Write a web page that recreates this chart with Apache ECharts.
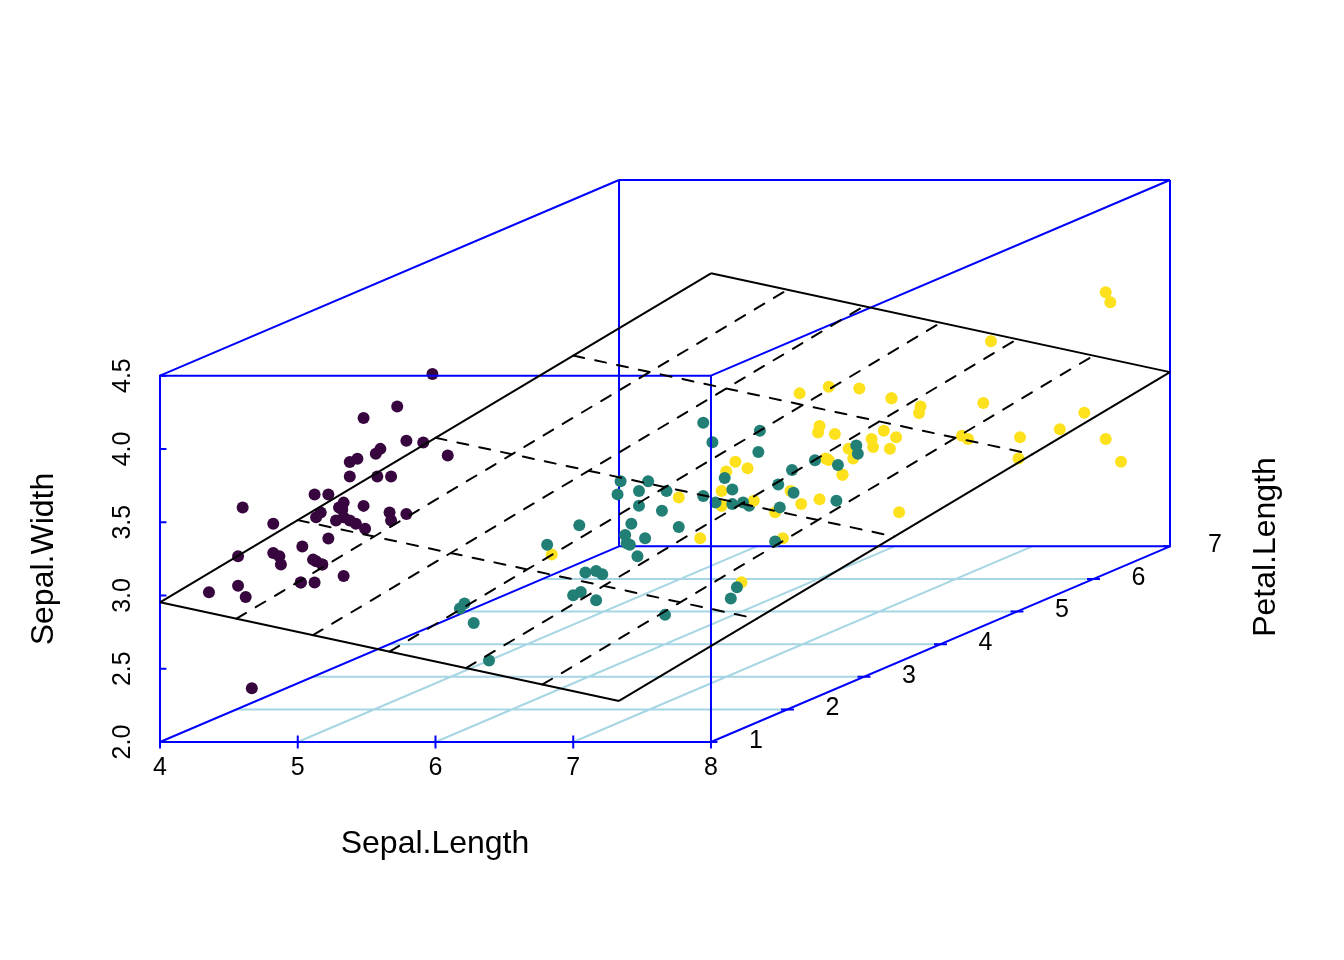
<!DOCTYPE html>
<html>
<head>
<meta charset="utf-8">
<style>
  html, body { margin: 0; padding: 0; background: #fff; }
  #chart { width: 1344px; height: 960px; }
</style>
<script src="https://cdn.jsdelivr.net/npm/echarts@6/dist/echarts.min.js"></script>
</head>
<body>
<div id="chart"></div>
<script>
// [Sepal.Length, Sepal.Width, Petal.Length]
const setosa = [
  [5.1,3.5,1.4],[4.9,3.0,1.4],[4.7,3.2,1.3],[4.6,3.1,1.5],[5.0,3.6,1.4],[5.4,3.9,1.7],[4.6,3.4,1.4],[5.0,3.4,1.5],[4.4,2.9,1.4],[4.9,3.1,1.5],
  [5.4,3.7,1.5],[4.8,3.4,1.6],[4.8,3.0,1.4],[4.3,3.0,1.1],[5.8,4.0,1.2],[5.7,4.4,1.5],[5.4,3.9,1.3],[5.1,3.5,1.4],[5.7,3.8,1.7],[5.1,3.8,1.5],
  [5.4,3.4,1.7],[5.1,3.7,1.5],[4.6,3.6,1.0],[5.1,3.3,1.7],[4.8,3.4,1.9],[5.0,3.0,1.6],[5.0,3.4,1.6],[5.2,3.5,1.5],[5.2,3.4,1.4],[4.7,3.2,1.6],
  [4.8,3.1,1.6],[5.4,3.4,1.5],[5.2,4.1,1.5],[5.5,4.2,1.4],[4.9,3.1,1.5],[5.0,3.2,1.2],[5.5,3.5,1.3],[4.9,3.6,1.4],[4.4,3.0,1.3],[5.1,3.4,1.5],
  [5.0,3.5,1.3],[4.5,2.3,1.3],[4.4,3.2,1.3],[5.0,3.5,1.6],[5.1,3.8,1.9],[4.8,3.0,1.4],[5.1,3.8,1.6],[4.6,3.2,1.4],[5.3,3.7,1.5],[5.0,3.3,1.4]
]
const versicolor = [
  [7.0,3.2,4.7],[6.4,3.2,4.5],[6.9,3.1,4.9],[5.5,2.3,4.0],[6.5,2.8,4.6],[5.7,2.8,4.5],[6.3,3.3,4.7],[4.9,2.4,3.3],[6.6,2.9,4.6],[5.2,2.7,3.9],
  [5.0,2.0,3.5],[5.9,3.0,4.2],[6.0,2.2,4.0],[6.1,2.9,4.7],[5.6,2.9,3.6],[6.7,3.1,4.4],[5.6,3.0,4.5],[5.8,2.7,4.1],[6.2,2.2,4.5],[5.6,2.5,3.9],
  [5.9,3.2,4.8],[6.1,2.8,4.0],[6.3,2.5,4.9],[6.1,2.8,4.7],[6.4,2.9,4.3],[6.6,3.0,4.4],[6.8,2.8,4.8],[6.7,3.0,5.0],[6.0,2.9,4.5],[5.7,2.6,3.5],
  [5.5,2.4,3.8],[5.5,2.4,3.7],[5.8,2.7,3.9],[6.0,2.7,5.1],[5.4,3.0,4.5],[6.0,3.4,4.5],[6.7,3.1,4.7],[6.3,2.3,4.4],[5.6,3.0,4.1],[5.5,2.5,4.0],
  [5.5,2.6,4.4],[6.1,3.0,4.6],[5.8,2.6,4.0],[5.0,2.3,3.3],[5.6,2.7,4.2],[5.7,3.0,4.2],[5.7,2.9,4.2],[6.2,2.9,4.3],[5.1,2.5,3.0],[5.7,2.8,4.1]
]
const virginica = [
  [6.3,3.3,6.0],[5.8,2.7,5.1],[7.1,3.0,5.9],[6.3,2.9,5.6],[6.5,3.0,5.8],[7.6,3.0,6.6],[4.9,2.5,4.5],[7.3,2.9,6.3],[6.7,2.5,5.8],[7.2,3.6,6.1],
  [6.5,3.2,5.1],[6.4,2.7,5.3],[6.8,3.0,5.5],[5.7,2.5,5.0],[5.8,2.8,5.1],[6.4,3.2,5.3],[6.5,3.0,5.5],[7.7,3.8,6.7],[7.7,2.6,6.9],[6.0,2.2,5.0],
  [6.9,3.2,5.7],[5.6,2.8,4.9],[7.7,2.8,6.7],[6.3,2.7,4.9],[6.7,3.3,5.7],[7.2,3.2,6.0],[6.2,2.8,4.8],[6.1,3.0,4.9],[6.4,2.8,5.6],[7.2,3.0,5.8],
  [7.4,2.8,6.1],[7.9,3.8,6.4],[6.4,2.8,5.6],[6.3,2.8,5.1],[6.1,2.6,5.6],[7.7,3.0,6.1],[6.3,3.4,5.6],[6.4,3.1,5.5],[6.0,3.0,4.8],[6.9,3.1,5.4],
  [6.7,3.1,5.6],[6.9,3.1,5.1],[5.8,2.7,5.1],[6.8,3.2,5.9],[6.7,3.3,5.7],[6.7,3.0,5.2],[6.3,2.5,5.0],[6.5,3.0,5.2],[6.2,3.4,5.4],[5.9,3.0,5.1]
]

const slTicks = [4, 5, 6, 7, 8]
const swTicks = [2, 2.5, 3, 3.5, 4, 4.5]
const plTicks = [1, 2, 3, 4, 5, 6, 7]
const swTickLabels = ['2.0', '2.5', '3.0', '3.5', '4.0', '4.5']

// fitted plane Sepal.Width, rows are Sepal.Length 4..8, columns Petal.Length 1..7
const planeSW = [
  [2.953, 2.619, 2.284, 1.949, 1.614, 1.280, 0.945],
  [3.514, 3.180, 2.845, 2.510, 2.175, 1.841, 1.506],
  [4.076, 3.741, 3.406, 3.071, 2.736, 2.402, 2.067],
  [4.637, 4.302, 3.967, 3.632, 3.297, 2.963, 2.628],
  [5.198, 4.863, 4.528, 4.193, 3.858, 3.524, 3.189]
]

// oblique projection, one Petal.Length unit moves this far along the two screen axes
const depthX = 0.5554
const depthY = 0.2225
const slMin = 4, slMax = 8, swMin = 2, swMax = 4.5, plMin = 1, plMax = 7

const project = (sl, sw, pl) => [sl + (pl - plMin) * depthX, sw + (pl - plMin) * depthY]

const GAP = ['-', '-']
const segments = (list) => {
  const out = []
  list.forEach((seg) => {
    out.push(project(...seg[0]), project(...seg[1]), GAP)
  })
  return out
}

const tickX = 0.047
const tickY = 0.044
const tickSegments = []
slTicks.forEach((v) => {
  tickSegments.push([[v, swMin - tickY, plMin], [v, swMin + tickY, plMin]])
})
swTicks.forEach((v) => {
  tickSegments.push([[slMin - tickX, v, plMin], [slMin + tickX, v, plMin]])
})
plTicks.forEach((v) => {
  tickSegments.push([[slMax - tickX, swMin, v], [slMax + tickX, swMin, v]])
})

const floorGrid = []
slTicks.slice(1, -1).forEach((v) => {
  floorGrid.push([[v, swMin, plMin], [v, swMin, plMax]])
})
plTicks.slice(1, -1).forEach((v) => {
  floorGrid.push([[slMin, swMin, v], [slMax, swMin, v]])
})

const backBox = [
  [[slMin, swMin, plMin], [slMax, swMin, plMin]],
  [[slMin, swMin, plMin], [slMin, swMax, plMin]],
  [[slMax, swMin, plMin], [slMax, swMin, plMax]],
  [[slMin, swMin, plMin], [slMin, swMin, plMax]],
  [[slMin, swMin, plMax], [slMax, swMin, plMax]],
  [[slMin, swMin, plMax], [slMin, swMax, plMax]],
  [[slMax, swMin, plMax], [slMax, swMax, plMax]],
  [[slMin, swMax, plMax], [slMax, swMax, plMax]],
  [[slMin, swMax, plMin], [slMin, swMax, plMax]]
]
const frontBox = [
  [[slMin, swMax, plMin], [slMax, swMax, plMin]],
  [[slMax, swMin, plMin], [slMax, swMax, plMin]],
  [[slMax, swMax, plMin], [slMax, swMax, plMax]]
]

const lastRow = planeSW.length - 1
const lastCol = plTicks.length - 1
const planeOutline = [
  [[slMin, planeSW[0][0], plMin], [slMax, planeSW[lastRow][0], plMin]],
  [[slMax, planeSW[lastRow][0], plMin], [slMax, planeSW[lastRow][lastCol], plMax]],
  [[slMax, planeSW[lastRow][lastCol], plMax], [slMin, planeSW[0][lastCol], plMax]],
  [[slMin, planeSW[0][lastCol], plMax], [slMin, planeSW[0][0], plMin]]
]
const planeDashed = []
slTicks.slice(1, -1).forEach((v, i) => {
  planeDashed.push([[v, planeSW[i + 1][0], plMin], [v, planeSW[i + 1][lastCol], plMax]])
})
plTicks.slice(1, -1).forEach((v, i) => {
  planeDashed.push([[slMin, planeSW[0][i + 1], v], [slMax, planeSW[lastRow][i + 1], v]])
})

// furthest points go down first so the nearer ones sit on top
const groups = [
  { rows: setosa, color: '#38063F' },
  { rows: versicolor, color: '#217F75' },
  { rows: virginica, color: '#FDE11D' }
]
const pointData = []
groups.forEach((g) => {
  g.rows.forEach((r) => pointData.push({ pl: r[2], value: project(r[0], r[1], r[2]), itemStyle: { color: g.color, opacity: 1 } }))
})
pointData.sort((a, b) => b.pl - a.pl)

const FONT = '"Liberation Sans", Arial, sans-serif'
const TICK_SIZE = 25
const TITLE_SIZE = 32

const lineSeries = (data, color, z, extra) => ({
  type: 'line',
  data: segments(data),
  symbol: 'none',
  clip: false,
  silent: true,
  connectNulls: false,
  z: z,
  lineStyle: Object.assign({ color: color, width: 2, cap: 'butt' }, extra)
})

const chart = echarts.init(document.getElementById('chart'), null, { renderer: 'canvas' })

chart.setOption({
  animation: false,
  backgroundColor: '#fff',
  grid: { left: 160, top: 180, width: 1010, height: 562 },
  xAxis: {
    type: 'value',
    min: slMin,
    max: slMax + (plMax - plMin) * depthX,
    axisLine: { show: false },
    axisTick: { show: false },
    splitLine: { show: false },
    axisLabel: {
      customValues: slTicks,
      margin: 14,
      color: '#000',
      fontFamily: FONT,
      fontSize: TICK_SIZE
    }
  },
  yAxis: {
    type: 'value',
    min: swMin,
    max: swMax + (plMax - plMin) * depthY,
    axisLine: { show: false },
    axisTick: { show: false },
    splitLine: { show: false },
    axisLabel: {
      customValues: swTicks,
      rotate: 90,
      margin: 37,
      align: 'center',
      verticalAlign: 'middle',
      color: '#000',
      fontFamily: FONT,
      fontSize: TICK_SIZE,
      formatter: (v) => swTickLabels[swTicks.indexOf(v)]
    }
  },
  series: [
    lineSeries(floorGrid, '#A6D5E4', 1),
    lineSeries(backBox, '#0000FF', 2),
    lineSeries(tickSegments, '#0000FF', 2),
    {
      type: 'scatter',
      data: pointData,
      symbolSize: 12,
      clip: false,
      silent: true,
      z: 3
    },
    lineSeries(frontBox, '#0000FF', 4),
    lineSeries(planeOutline, '#000', 5),
    lineSeries(planeDashed, '#000', 5, { type: [11.2, 11.15], cap: 'round' }),
    {
      type: 'scatter',
      data: plTicks.map((v) => ({ value: project(slMax, swMin, v), name: String(v) })),
      symbolSize: 0,
      clip: false,
      silent: true,
      z: 6,
      itemStyle: { opacity: 1 },
      label: {
        show: true,
        position: 'inside',
        offset: [45, -1],
        formatter: '{b}',
        color: '#000',
        fontFamily: FONT,
        fontSize: TICK_SIZE
      }
    }
  ],
  graphic: [
    {
      type: 'text', x: 435, y: 844,
      style: { text: 'Sepal.Length', align: 'center', verticalAlign: 'middle', fill: '#000', font: TITLE_SIZE + 'px ' + FONT }
    },
    {
      type: 'text', x: 44, y: 559, rotation: Math.PI / 2,
      style: { text: 'Sepal.Width', align: 'center', verticalAlign: 'middle', fill: '#000', font: TITLE_SIZE + 'px ' + FONT }
    },
    {
      type: 'text', x: 1266, y: 547, rotation: Math.PI / 2,
      style: { text: 'Petal.Length', align: 'center', verticalAlign: 'middle', fill: '#000', font: TITLE_SIZE + 'px ' + FONT }
    }
  ]
})
</script>
</body>
</html>
